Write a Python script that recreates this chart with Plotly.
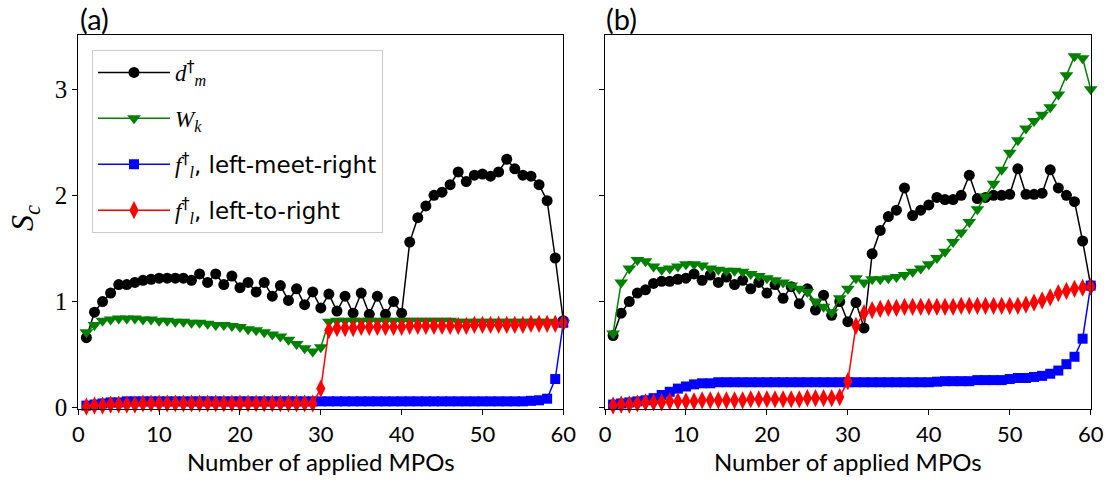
import plotly.graph_objects as go

steps = list(range(1, 61))
x_ticks = [0, 10, 20, 30, 40, 50, 60]
y_ticks = [0, 1, 2, 3]

# ---- panel (a) ----
a_dm = [0.66, 0.90, 1.00, 1.08, 1.16, 1.16, 1.18, 1.20, 1.21, 1.22,
        1.22, 1.22, 1.22, 1.20, 1.26, 1.18, 1.26, 1.16, 1.24, 1.13,
        1.18, 1.09, 1.18, 1.05, 1.15, 1.01, 1.12, 0.97, 1.09, 0.94,
        1.07, 0.91, 1.05, 0.89, 1.08, 0.88, 1.05, 0.88, 1.00, 0.89,
        1.56, 1.79, 1.90, 2.00, 2.03, 2.10, 2.22, 2.13, 2.19, 2.20,
        2.18, 2.22, 2.34, 2.25, 2.19, 2.18, 2.10, 1.95, 1.41, 0.82]
a_wk = [0.71, 0.78, 0.82, 0.83, 0.84, 0.84, 0.84, 0.83, 0.83, 0.82,
        0.82, 0.81, 0.81, 0.80, 0.80, 0.79, 0.78, 0.78, 0.77, 0.76,
        0.74, 0.73, 0.71, 0.69, 0.67, 0.64, 0.60, 0.56, 0.53, 0.57,
        0.81, 0.82, 0.82, 0.82, 0.82, 0.82, 0.82, 0.82, 0.82, 0.82,
        0.82, 0.82, 0.82, 0.82, 0.82, 0.82, 0.81, 0.81, 0.81, 0.81,
        0.81, 0.81, 0.81, 0.81, 0.81, 0.81, 0.81, 0.81, 0.80, 0.80]
a_lmr = [0.02, 0.03, 0.04, 0.05, 0.05, 0.06, 0.06, 0.06, 0.06, 0.06,
         0.06, 0.06, 0.06, 0.06, 0.06, 0.06, 0.06, 0.06, 0.06, 0.06,
         0.06, 0.06, 0.06, 0.06, 0.06, 0.06, 0.06, 0.06, 0.06, 0.06,
         0.06, 0.06, 0.06, 0.06, 0.06, 0.06, 0.06, 0.06, 0.06, 0.06,
         0.06, 0.06, 0.06, 0.06, 0.06, 0.06, 0.06, 0.06, 0.06, 0.06,
         0.06, 0.06, 0.06, 0.06, 0.06, 0.065, 0.07, 0.085, 0.27, 0.80]
a_ltr = [0.01, 0.02, 0.02, 0.03, 0.03, 0.03, 0.03, 0.04, 0.04, 0.04,
         0.04, 0.04, 0.04, 0.04, 0.04, 0.04, 0.04, 0.04, 0.04, 0.04,
         0.04, 0.04, 0.04, 0.04, 0.04, 0.04, 0.04, 0.04, 0.04, 0.18,
         0.73, 0.75, 0.75, 0.75, 0.76, 0.76, 0.76, 0.76, 0.76, 0.76,
         0.77, 0.77, 0.77, 0.77, 0.77, 0.77, 0.77, 0.77, 0.78, 0.78,
         0.78, 0.78, 0.78, 0.78, 0.78, 0.79, 0.79, 0.79, 0.79, 0.80]

# ---- panel (b) ----
b_dm = [0.68, 0.89, 1.00, 1.08, 1.11, 1.17, 1.19, 1.19, 1.21, 1.22,
        1.26, 1.20, 1.25, 1.18, 1.23, 1.16, 1.20, 1.12, 1.18, 1.08,
        1.16, 1.03, 1.14, 0.98, 1.12, 0.92, 1.06, 0.87, 1.00, 0.81,
        0.99, 0.75, 1.45, 1.67, 1.80, 1.86, 2.07, 1.81, 1.86, 1.91,
        1.98, 1.96, 1.96, 2.00, 2.19, 1.97, 1.98, 2.00, 2.00, 2.01,
        2.25, 2.01, 2.01, 2.02, 2.24, 2.07, 2.00, 1.94, 1.57, 1.15]
b_wk = [0.70, 1.18, 1.31, 1.39, 1.38, 1.33, 1.30, 1.31, 1.33, 1.35,
        1.35, 1.34, 1.31, 1.30, 1.29, 1.29, 1.28, 1.26, 1.24, 1.22,
        1.20, 1.18, 1.15, 1.12, 1.09, 1.00, 0.95, 0.90, 1.03, 1.12,
        1.22, 1.18, 1.21, 1.21, 1.22, 1.23, 1.25, 1.28, 1.31, 1.35,
        1.41, 1.47, 1.56, 1.65, 1.75, 1.87, 1.99, 2.11, 2.24, 2.40,
        2.52, 2.63, 2.70, 2.76, 2.83, 2.95, 3.13, 3.31, 3.29, 3.00]
b_lmr = [0.03, 0.04, 0.05, 0.06, 0.07, 0.09, 0.12, 0.15, 0.18, 0.20,
         0.22, 0.23, 0.23, 0.24, 0.24, 0.24, 0.24, 0.24, 0.24, 0.24,
         0.24, 0.24, 0.24, 0.24, 0.24, 0.24, 0.24, 0.24, 0.24, 0.24,
         0.24, 0.24, 0.24, 0.24, 0.24, 0.24, 0.24, 0.24, 0.24, 0.24,
         0.245, 0.25, 0.25, 0.25, 0.25, 0.26, 0.26, 0.26, 0.26, 0.27,
         0.28, 0.28, 0.29, 0.30, 0.32, 0.35, 0.41, 0.48, 0.65, 1.15]
b_ltr = [0.02, 0.03, 0.03, 0.04, 0.05, 0.05, 0.05, 0.06, 0.06, 0.06,
         0.06, 0.07, 0.07, 0.07, 0.07, 0.07, 0.07, 0.08, 0.08, 0.08,
         0.08, 0.08, 0.08, 0.08, 0.09, 0.09, 0.09, 0.09, 0.10, 0.25,
         0.77, 0.89, 0.92, 0.93, 0.94, 0.94, 0.95, 0.95, 0.95, 0.95,
         0.95, 0.95, 0.95, 0.96, 0.96, 0.96, 0.96, 0.96, 0.96, 0.96,
         0.96, 0.97, 0.99, 1.01, 1.04, 1.08, 1.10, 1.12, 1.13, 1.14]

serif = "'Liberation Serif', 'DejaVu Serif', serif"
sans = "Lato, 'DejaVu Sans', sans-serif"


def m(s):
    return "<span style=\"font-family:'Liberation Serif'\"><i>%s</i></span>" % s


series_names = [m("d") + "<sup>†</sup><sub>" + m("m") + "</sub>",
                m("W") + "<sub>" + m("k") + "</sub>",
                m("f") + "<sup>†</sup><sub>" + m("l") + "</sub>, left-meet-right",
                m("f") + "<sup>†</sup><sub>" + m("l") + "</sub>, left-to-right"]
colors = ["black", "green", "blue", "red"]
symbols = ["circle", "triangle-down", "square", "diamond-tall"]
msizes = [11, 12, 10, 13]

fig = go.Figure()
panels = [([a_dm, a_wk, a_lmr, a_ltr], "x", "y", True),
          ([b_dm, b_wk, b_lmr, b_ltr], "x2", "y2", False)]
for data, xa, ya, show in panels:
    for i, (vals, name, c, s, ms) in enumerate(zip(data, series_names, colors, symbols, msizes)):
        fig.add_trace(go.Scatter(
            x=steps, y=vals, name=name, mode="lines+markers",
            legendgroup="g%d" % i,
            line=dict(color=c, width=1.5),
            marker=dict(color=c, symbol=s, size=ms, line=dict(width=0)),
            xaxis=xa, yaxis=ya, showlegend=show, cliponaxis=False))

W, H = 1112, 489
xl = [78.3 / W, 563.3 / W]
xr = [605.0 / W, 1090.7 / W]
yd = [1 - 409.0 / H, 1 - 35.0 / H]

axis_common = dict(showline=True, linecolor="black", linewidth=1.3, mirror=True,
                   ticks="outside", ticklen=5, tickwidth=1.2, tickcolor="black",
                   showgrid=False, zeroline=False, automargin=False)
xfont = dict(family=sans, size=22, color="black")
yfont = dict(family=serif, size=25, color="black")
xtitle = dict(text="Number of applied MPOs", font=dict(family=sans, size=24, color="black"), standoff=6)

fig.update_layout(
    width=W, height=H,
    margin=dict(l=0, r=0, t=0, b=0, autoexpand=False),
    paper_bgcolor="white", plot_bgcolor="white",
    xaxis=dict(domain=xl, range=[0, 60], tickvals=x_ticks, tickfont=xfont,
               anchor="y", title=xtitle, **axis_common),
    yaxis=dict(domain=yd, range=[-0.012, 3.51], tickvals=y_ticks, tickfont=yfont,
               anchor="x", **axis_common),
    xaxis2=dict(domain=xr, range=[0, 60], tickvals=x_ticks, tickfont=xfont,
                anchor="y2", title=xtitle, **axis_common),
    yaxis2=dict(domain=yd, range=[-0.012, 3.51], tickvals=y_ticks, showticklabels=False,
                anchor="x2", matches="y", **axis_common),
    legend=dict(x=92 / W, y=1 - 50 / H, xanchor="left", yanchor="top",
                bgcolor="rgba(255,255,255,0.8)", bordercolor="#cccccc", borderwidth=1,
                font=dict(family="'DejaVu Sans', sans-serif", size=23, color="black"),
                itemwidth=72, tracegroupgap=13),
    annotations=[
        dict(text="(a)", x=78 / W, y=1 - 18 / H, xref="paper", yref="paper",
             xanchor="left", yanchor="middle", showarrow=False,
             font=dict(family=sans, size=29, color="black")),
        dict(text="(b)", x=604 / W, y=1 - 18 / H, xref="paper", yref="paper",
             xanchor="left", yanchor="middle", showarrow=False,
             font=dict(family=sans, size=29, color="black")),
        dict(text="<i>S</i><sub><i>c</i></sub>", x=24 / W, y=1 - 218 / H, xref="paper", yref="paper",
             xanchor="center", yanchor="middle", showarrow=False, textangle=-90,
             font=dict(family=serif, size=32, color="black")),
    ],
)

fig.write_html("out.html", config={"displayModeBar": False},
               post_script="document.body.style.margin='0';document.documentElement.style.overflow='hidden';")
